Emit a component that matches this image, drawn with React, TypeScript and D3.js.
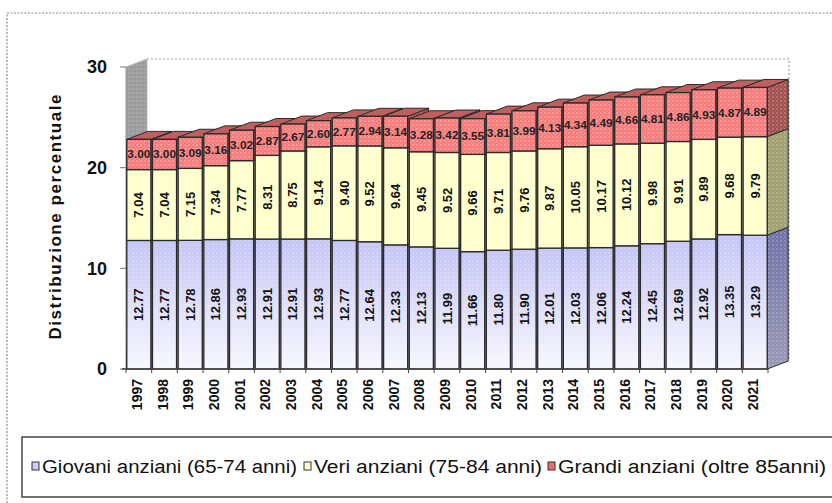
import React from 'react';
import * as d3 from 'd3';

const years = ['1997','1998','1999','2000','2001','2002','2003','2004','2005','2006','2007','2008','2009','2010','2011','2012','2013','2014','2015','2016','2017','2018','2019','2020','2021'];
const giovani = [12.77,12.77,12.78,12.86,12.93,12.91,12.91,12.93,12.77,12.64,12.33,12.13,11.99,11.66,11.80,11.90,12.01,12.03,12.06,12.24,12.45,12.69,12.92,13.35,13.29];
const veri = [7.04,7.04,7.15,7.34,7.77,8.31,8.75,9.14,9.40,9.52,9.64,9.45,9.52,9.66,9.71,9.76,9.87,10.05,10.17,10.12,9.98,9.91,9.89,9.68,9.79];
const grandi = [3.00,3.00,3.09,3.16,3.02,2.87,2.67,2.60,2.77,2.94,3.14,3.28,3.42,3.55,3.81,3.99,4.13,4.34,4.49,4.66,4.81,4.86,4.93,4.87,4.89];
const seriesKeys = ['g','v','r'];
const seriesNames = ['Giovani anziani (65-74 anni)','Veri anziani (75-84 anni)','Grandi anziani (oltre 85anni)'];
const yTicks = [0,10,20,30];
const yTitle = 'Distribuzione  percentuale';

const W = 832, H = 503;
const DX = 21, DY = -8;
const x = d3.scaleBand<string>().domain(years).range([126, 768]).paddingInner(0).paddingOuter(0);
const y = d3.scaleLinear().domain([0, 30]).range([369, 67]);

const table = years.map((yr, i) => ({ year: yr, g: giovani[i], v: veri[i], r: grandi[i] }));
const stacked = d3.stack<any>().keys(seriesKeys)(table);

const frontFill = ['url(#gBlue)', '#ffffcc', '#f77c7c'];
const sideFill = ['url(#gBlueSide)', '#9f9f72', '#a34f4f'];
const topFill = ['#9c9cd0', '#d8d8a8', '#c05f5f'];
const legendMark = ['#ccccff', '#ffffcc', '#f06a6a'];
const fmt = d3.format('.2f');

const pts = (a: number[][]) => a.map(p => p.join(',')).join(' ');

export default function App() {
  const bw = x.bandwidth();
  const xFront0 = x(years[0])!;
  const xEnd = x(years[years.length - 1])! + bw;
  return (
    <svg width={W} height={H} style={{ position: 'absolute', left: 0, top: 0, background: '#fff' }}
      fontFamily="Arial, 'Liberation Sans', Helvetica, sans-serif">
      <defs>
        <linearGradient id="gBlue" x1="0" y1="0" x2="0" y2="1">
          <stop offset="0" stopColor="#c4c4f6" />
          <stop offset="1" stopColor="#f7f7ff" />
        </linearGradient>
        <linearGradient id="gBlueSide" x1="0" y1="0" x2="0" y2="1">
          <stop offset="0" stopColor="#6e6ea6" />
          <stop offset="1" stopColor="#9898b6" />
        </linearGradient>
        <pattern id="dots" width="4" height="4" patternUnits="userSpaceOnUse">
          <circle cx="1" cy="1" r="0.7" fill="#ffffff" opacity="0.55" />
          <circle cx="3" cy="3" r="0.5" fill="#ffffff" opacity="0.35" />
        </pattern>
        <pattern id="wallPat" width="4" height="4" patternUnits="userSpaceOnUse">
          <rect width="4" height="4" fill="#9e9e9e" />
          <circle cx="1" cy="1" r="0.6" fill="#c8c8c8" />
          <circle cx="3" cy="3" r="0.6" fill="#888888" />
        </pattern>
      </defs>

      {/* outer dashed frame */}
      <path d={`M7,503 L7,13 L832,13`} fill="none" stroke="#8a8a8a" strokeWidth={1.2} strokeDasharray="2,1.5" />

      {/* left wall */}
      <polygon points={pts([[xFront0, y(0)], [xFront0, y(30)], [xFront0 + DX, y(30) + DY], [xFront0 + DX, y(0) + DY]])}
        fill="url(#wallPat)" stroke="#b5b5b5" strokeWidth={0.8} />
      {/* back wall outline */}
      <path d={`M${xFront0 + DX},${y(30) + DY} L${xEnd + DX},${y(30) + DY} L${xEnd + DX},${y(0) + DY}`}
        fill="none" stroke="#a0a0a0" strokeWidth={1.2} strokeDasharray="2,2" />

      {/* y axis ticks & labels */}
      <line x1={xFront0} x2={xFront0} y1={y(0)} y2={y(30)} stroke="#999" strokeWidth={0.8} />
      {yTicks.map(t => (
        <g key={t}>
          <line x1={xFront0 - 6} x2={xFront0} y1={y(t)} y2={y(t)} stroke="#777" strokeWidth={1} />
          <text x={107} y={y(t)} dy="0.36em" textAnchor="end" fontSize={18} fontWeight="bold" fill="#111">{t}</text>
        </g>
      ))}
      <text transform={`translate(61,${y(15) - 1}) rotate(-90)`} textAnchor="middle" fontSize={17} fontWeight="bold"
        fill="#111" textLength={245} lengthAdjust="spacing">{yTitle}</text>

      {/* bars */}
      {years.map((yr, i) => {
        const xl = x(yr)! + 0.8;
        const xr = x(yr)! + bw - 0.8;
        const top = stacked[stacked.length - 1][i][1];
        return (
          <g key={yr}>
            {stacked.map((s, k) => {
              const y0 = y(s[i][0]), y1 = y(s[i][1]);
              return (
                <g key={'s' + k}>
                  <polygon points={pts([[xr, y1], [xr + DX, y1 + DY], [xr + DX, y0 + DY], [xr, y0]])}
                    fill={sideFill[k]} />
                  <polygon points={pts([[xr, y1], [xr + DX, y1 + DY], [xr + DX, y0 + DY], [xr, y0]])}
                    fill="url(#dots)" stroke="#2a2a2a" strokeWidth={1} />
                </g>
              );
            })}
            <polygon points={pts([[xl, y(top)], [xr, y(top)], [xr + DX, y(top) + DY], [xl + DX, y(top) + DY]])}
              fill={topFill[2]} stroke="#2a2a2a" strokeWidth={1} />
            {stacked.map((s, k) => {
              const y0 = y(s[i][0]), y1 = y(s[i][1]);
              return (
                <g key={'f' + k}>
                  <rect x={xl} y={y1} width={xr - xl} height={y0 - y1} fill={frontFill[k]} />
                  <rect x={xl} y={y1} width={xr - xl} height={y0 - y1} fill="url(#dots)" stroke="#2a2a2a" strokeWidth={1.3} />
                </g>
              );
            })}
          </g>
        );
      })}

      {/* x axis */}
      <line x1={xFront0 - 4} x2={xEnd} y1={y(0)} y2={y(0)} stroke="#444" strokeWidth={1.3} />
      {years.map((yr, i) => (
        <line key={'t' + yr} x1={x(yr)!} x2={x(yr)!} y1={y(0)} y2={y(0) + 4} stroke="#444" strokeWidth={1} />
      ))}
      <line x1={xEnd} x2={xEnd} y1={y(0)} y2={y(0) + 4} stroke="#444" strokeWidth={1} />
      {years.map(yr => {
        const cx = x(yr)! + bw / 2;
        return (
          <text key={'yl' + yr} transform={`translate(${cx + 3},379) rotate(-90)`} textAnchor="end" fontSize={14}
            fontWeight="bold" fill="#111">{yr}</text>
        );
      })}

      {/* value labels */}
      {years.map((yr, i) => {
        const cx = x(yr)! + bw / 2;
        return (
          <g key={'v' + yr}>
            {stacked.map((s, k) => {
              const cy = (y(s[i][0]) + y(s[i][1])) / 2;
              const v = (table[i] as any)[seriesKeys[k]];
              if (k < 2) {
                return (
                  <text key={k} transform={`translate(${cx + 4.5},${cy}) rotate(-90)`} textAnchor="middle" fontSize={13}
                    fontWeight="bold" fill="#111">{fmt(v)}</text>
                );
              }
              return (
                <text key={k} x={cx} y={cy} dy="0.36em" textAnchor="middle" fontSize={11} fontWeight="bold"
                  fill="#222" textLength={23} lengthAdjust="spacingAndGlyphs">{fmt(v)}</text>
              );
            })}
          </g>
        );
      })}

      {/* legend */}
      <rect x={22} y={437} width={830} height={60} fill="#fff" stroke="#444" strokeWidth={1.5} />
      {[
        { mx: 32, tx: 42, tw: 255 },
        { mx: 304, tx: 314, tw: 228 },
        { mx: 548, tx: 558, tw: 268 },
      ].map((l, k) => (
        <g key={'lg' + k}>
          <rect x={l.mx} y={462} width={7} height={8} fill={legendMark[k]} stroke="#333" strokeWidth={1} />
          <text x={l.tx} y={473} fontSize={18} fill="#111" textLength={l.tw} lengthAdjust="spacingAndGlyphs"
            fontFamily="'Liberation Sans Narrow', 'Arial Narrow', 'Liberation Sans', Arial, sans-serif">{seriesNames[k]}</text>
        </g>
      ))}
    </svg>
  );
}
